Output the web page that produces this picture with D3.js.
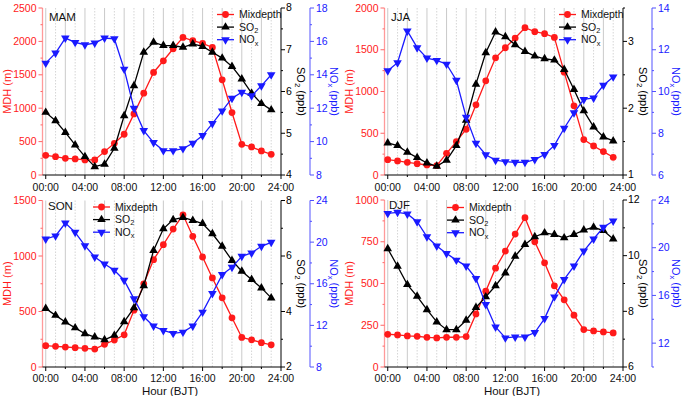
<!DOCTYPE html>
<html><head><meta charset="utf-8">
<script src="https://cdn.jsdelivr.net/npm/d3@7"></script>
<style>
body{margin:0;background:#fff;}
svg{font-family:"Liberation Sans",Arial,sans-serif;}
</style></head>
<body>
<svg id="c" width="684" height="396"></svg>
<script>
const hours = d3.range(0,24);
const xTickLabels = ["00:00","04:00","08:00","12:00","16:00","20:00","24:00"];
const seasons = ["MAM","JJA","SON","DJF"];

const mdhMAM = [295,275,250,240,225,225,350,475,610,915,1225,1535,1710,1890,2060,2010,1970,1910,1425,935,460,420,360,310];
const so2MAM = [5.50,5.30,5.02,4.72,4.44,4.20,4.26,4.64,5.42,6.14,6.94,7.18,7.10,7.10,7.06,7.14,7.08,6.94,6.80,6.60,6.30,5.96,5.71,5.56];
const noxMAM = [14.7,15.3,16.2,15.94,15.8,15.9,16.2,16.16,14.34,12.0,10.66,9.94,9.46,9.46,9.58,9.9,10.36,11.08,11.84,12.6,12.96,12.74,13.34,14.0];

const mdhJJA = [184,168,152,136,120,112,260,400,548,840,1128,1404,1524,1640,1764,1716,1692,1648,1232,828,424,348,280,212];
const so2JJA = [1.48,1.44,1.34,1.26,1.18,1.13,1.22,1.44,1.82,2.36,2.83,3.14,3.07,2.95,2.85,2.78,2.74,2.72,2.58,2.28,1.96,1.72,1.57,1.51];
const noxJJA = [10.99,11.38,12.9,12.1,11.6,11.49,11.31,10.54,8.77,7.52,6.97,6.71,6.64,6.61,6.61,6.74,6.98,7.42,8.24,8.98,9.62,9.69,10.3,10.7];

const mdhSON = [192,186,180,174,168,162,204,243,290,512,749,967,1102,1243,1371,1177,991,802,623,443,266,245,219,200];
const so2SON = [4.11,3.86,3.62,3.41,3.20,3.08,2.98,3.14,3.63,4.13,4.93,6.2,6.98,7.31,7.39,7.28,7.17,6.8,6.35,5.84,5.45,5.15,4.85,4.49];
const noxSON = [20.3,20.6,21.83,20.94,19.66,18.57,17.9,17.3,16.34,14.55,12.82,11.93,11.51,11.23,11.35,11.93,13.27,15.06,16.88,17.58,18.64,18.96,19.6,19.98];

const mdhDJF = [196,192,186,184,178,174,178,178,182,318,454,592,694,796,894,750,624,486,402,310,224,216,210,204];
const so2DJF = [10.25,9.62,8.96,8.54,8.06,7.62,7.34,7.34,7.68,8.14,8.52,8.92,9.38,9.98,10.4,10.68,10.82,10.76,10.64,10.76,10.92,11.02,10.9,10.6];
const noxDJF = [22.88,22.97,22.83,22.18,20.92,20.14,19.52,18.96,18.46,17.42,15.24,13.36,12.44,12.52,12.52,12.89,14.06,15.88,17.34,18.46,19.72,20.73,21.71,22.24];

const mdhDomains = [[0,2500],[0,2000],[0,1500],[0,1000]];
const mdhTicks = [[0,500,1000,1500,2000,2500],[0,500,1000,1500,2000],[0,500,1000,1500],[0,250,500,750,1000]];
const so2Domains = [[4,8],[1,3.5],[2,8],[6,12]];
const so2Ticks = [[4,5,6,7,8],[1,2,3],[2,4,6,8],[6,8,10,12]];
const noxDomains = [[8,18],[6,14],[8,24],[10,24]];
const noxTicks = [[8,10,12,14,16,18],[6,8,10,12,14],[8,12,16,20,24],[12,16,20,24]];

const panelData = [
  {mdh:mdhMAM, so2:so2MAM, nox:noxMAM},
  {mdh:mdhJJA, so2:so2JJA, nox:noxJJA},
  {mdh:mdhSON, so2:so2SON, nox:noxSON},
  {mdh:mdhDJF, so2:so2DJF, nox:noxDJF}
];

const offsets = [[0,0],[342,0],[0,192],[342,192]];
const legendPos = [[217,14.5],[217,14.5],[93,15],[105,15.5]];
const labelPos = [[49,17],[49,17],[48,14],[47,13]];
const plotTops = [8,8,8.5,8];
const plotBottom = 175;

const RED="#ff1a1a", BLUE="#1a1aff", BLACK="#000";
const svg = d3.select("#c");

function subLabel(sel, base, sub, rest){
  sel.append("tspan").text(base);
  sel.append("tspan").attr("font-size","0.7em").attr("dy","0.3em").text(sub);
  if(rest) sel.append("tspan").attr("dy","-0.3em").attr("font-size","1em").text(rest);
}

seasons.forEach((s,i)=>{
  const [ox,oy]=offsets[i];
  const g = svg.append("g").attr("transform",`translate(${ox},${oy})`);
  const top = plotTops[i];
  const x = d3.scaleLinear().domain([-0.33,24]).range([42.5,281]);
  const yM = d3.scaleLinear().domain(mdhDomains[i]).range([plotBottom,top]);
  const yS = d3.scaleLinear().domain(so2Domains[i]).range([plotBottom,top]);
  const yN = d3.scaleLinear().domain(noxDomains[i]).range([plotBottom,top]);

  // vertical grid
  g.append("g").selectAll("line").data(hours).join("line")
    .attr("x1",d=>x(d)).attr("x2",d=>x(d)).attr("y1",top).attr("y2",plotBottom)
    .attr("stroke",d=>d%2===0?"#c4c4c4":"#d0d0d0")
    .attr("stroke-width",0.9)
    .attr("stroke-dasharray",d=>d%2===0?null:"1.5,1.5");

  // left axis
  const la = g.append("g").attr("transform","translate(42.5,0)");
  const step = mdhTicks[i][1]-mdhTicks[i][0];
  const minorM = d3.range(mdhDomains[i][0]+step/2, mdhDomains[i][1], step);
  la.append("line").attr("y1",top).attr("y2",plotBottom).attr("stroke","#ff9a9a").attr("stroke-width",1.3);
  la.selectAll(".mt").data(mdhTicks[i]).join("line").attr("x1",-4).attr("x2",0)
    .attr("y1",d=>yM(d)).attr("y2",d=>yM(d)).attr("stroke","#ff6666");
  la.selectAll(".mn").data(minorM).join("line").attr("x1",-2).attr("x2",0)
    .attr("y1",d=>yM(d)).attr("y2",d=>yM(d)).attr("stroke","#ff6666");
  la.selectAll("text").data(mdhTicks[i]).join("text").attr("x",-6).attr("y",d=>yM(d)).attr("dy","0.35em")
    .attr("text-anchor","end").attr("font-size",10.5).attr("fill",RED).text(d=>d);
  g.append("text").attr("transform",`translate(11,${(top+plotBottom)/2}) rotate(-90)`)
    .attr("text-anchor","middle").attr("font-size",11).attr("fill",RED).text("MDH (m)");

  // SO2 axis (right)
  const ra = g.append("g").attr("transform","translate(281,0)");
  const sStep = so2Ticks[i][1]-so2Ticks[i][0];
  const minorS = d3.range(so2Domains[i][0]+sStep/2, so2Domains[i][1]+1e-9, sStep);
  ra.append("line").attr("y1",top).attr("y2",plotBottom).attr("stroke",BLACK).attr("stroke-width",1);
  ra.selectAll(".mt").data(so2Ticks[i]).join("line").attr("x1",0).attr("x2",4)
    .attr("y1",d=>yS(d)).attr("y2",d=>yS(d)).attr("stroke",BLACK);
  ra.selectAll(".mn").data(minorS).join("line").attr("x1",0).attr("x2",2)
    .attr("y1",d=>yS(d)).attr("y2",d=>yS(d)).attr("stroke",BLACK);
  ra.selectAll("text").data(so2Ticks[i]).join("text").attr("x",5).attr("y",d=>yS(d)).attr("dy","0.32em")
    .attr("font-size",10.5).attr("fill",BLACK).text(d=>d);
  const sl = g.append("text").attr("transform",`translate(297,${(top+plotBottom)/2}) rotate(90)`)
    .attr("text-anchor","middle").attr("font-size",11).attr("fill",BLACK);
  subLabel(sl,"SO","2"," (ppb)");

  // NOx axis
  const na = g.append("g").attr("transform","translate(310,0)");
  const nStep = noxTicks[i][1]-noxTicks[i][0];
  const minorN = d3.range(noxTicks[i][0]-nStep/2, noxDomains[i][1]+1e-9, nStep).filter(v=>v>=noxDomains[i][0]);
  na.append("line").attr("y1",top).attr("y2",plotBottom).attr("stroke","#7070ff").attr("stroke-width",1.2);
  na.selectAll(".mt").data(noxTicks[i]).join("line").attr("x1",0).attr("x2",4)
    .attr("y1",d=>yN(d)).attr("y2",d=>yN(d)).attr("stroke","#5050ff");
  na.selectAll(".mn").data(minorN).join("line").attr("x1",0).attr("x2",2)
    .attr("y1",d=>yN(d)).attr("y2",d=>yN(d)).attr("stroke","#5050ff");
  na.selectAll("text").data(noxTicks[i]).join("text").attr("x",6).attr("y",d=>yN(d)).attr("dy","0.35em")
    .attr("font-size",10.5).attr("fill",BLUE).text(d=>d);
  const nl = g.append("text").attr("transform",`translate(330,${(top+plotBottom)/2}) rotate(90)`)
    .attr("text-anchor","middle").attr("font-size",11).attr("fill",BLUE);
  subLabel(nl,"NO","x"," (ppb)");

  // bottom axis
  const ba = g.append("g").attr("transform",`translate(0,${plotBottom})`);
  ba.append("line").attr("x1",42.5).attr("x2",281).attr("stroke",BLACK);
  ba.selectAll(".mt").data(d3.range(0,25,4)).join("line").attr("x1",d=>x(d)).attr("x2",d=>x(d))
    .attr("y1",0).attr("y2",4).attr("stroke",BLACK);
  ba.selectAll(".mn").data(d3.range(2,24,4)).join("line").attr("x1",d=>x(d)).attr("x2",d=>x(d))
    .attr("y1",0).attr("y2",2).attr("stroke",BLACK);
  ba.selectAll("text").data(xTickLabels).join("text").attr("x",(d,k)=>x(k*4)).attr("y",i>=2?14.5:15.5)
    .attr("text-anchor","middle").attr("font-size",10.5).attr("fill","#111").text(d=>d);
  if(i>=2){
    g.append("text").attr("x",170).attr("y",202.5).attr("text-anchor","middle")
      .attr("font-size",11.5).attr("fill","#111").text("Hour (BJT)");
  }

  const d = panelData[i];
  const line = (ys)=>d3.line().x((v,k)=>x(hours[k])).y(v=>ys(v));
  const series = [
    {vals:d.mdh, sc:yM, col:RED, kind:"circle"},
    {vals:d.so2, sc:yS, col:BLACK, kind:"up"},
    {vals:d.nox, sc:yN, col:BLUE, kind:"down"}
  ];
  series.forEach(se=>{
    g.append("path").datum(se.vals).attr("d",line(se.sc)).attr("fill","none")
      .attr("stroke",se.col).attr("stroke-width",1.3);
    const m = g.append("g").selectAll("path").data(se.vals).join("path")
      .attr("fill",se.col)
      .attr("transform",(v,k)=>`translate(${x(hours[k])},${se.sc(v)})${se.kind==="down"?" rotate(180)":""}`);
    if(se.kind==="circle") m.attr("d",d3.symbol().type(d3.symbolCircle).size(36)());
    else m.attr("d",d3.symbol().type(d3.symbolTriangle).size(32)());
  });

  // season label
  g.append("text").attr("x",labelPos[i][0]).attr("y",labelPos[i][1]).attr("dy","0.35em")
    .attr("font-size",11.5).attr("fill","#111").text(s);

  // legend
  const [lx,ly]=legendPos[i];
  const leg = [
    {name:["Mixdepth"], col:RED, kind:"circle"},
    {name:["SO","2"], col:BLACK, kind:"up"},
    {name:["NO","x"], col:BLUE, kind:"down"}
  ];
  leg.forEach((L,k)=>{
    const yy = ly + k*12.6;
    g.append("line").attr("x1",lx).attr("x2",lx+17).attr("y1",yy).attr("y2",yy).attr("stroke",L.col).attr("stroke-width",1.3);
    const mk = g.append("path").attr("fill",L.col)
      .attr("transform",`translate(${lx+8.5},${yy})${L.kind==="down"?" rotate(180)":""}`);
    if(L.kind==="circle") mk.attr("d",d3.symbol().type(d3.symbolCircle).size(36)());
    else mk.attr("d",d3.symbol().type(d3.symbolTriangle).size(32)());
    const t = g.append("text").attr("x",lx+22).attr("y",yy).attr("dy","0.35em").attr("font-size",10.5).attr("fill","#111");
    if(L.name.length===1) t.text(L.name[0]);
    else subLabel(t,L.name[0],L.name[1]);
  });
});
</script>
</body></html>
